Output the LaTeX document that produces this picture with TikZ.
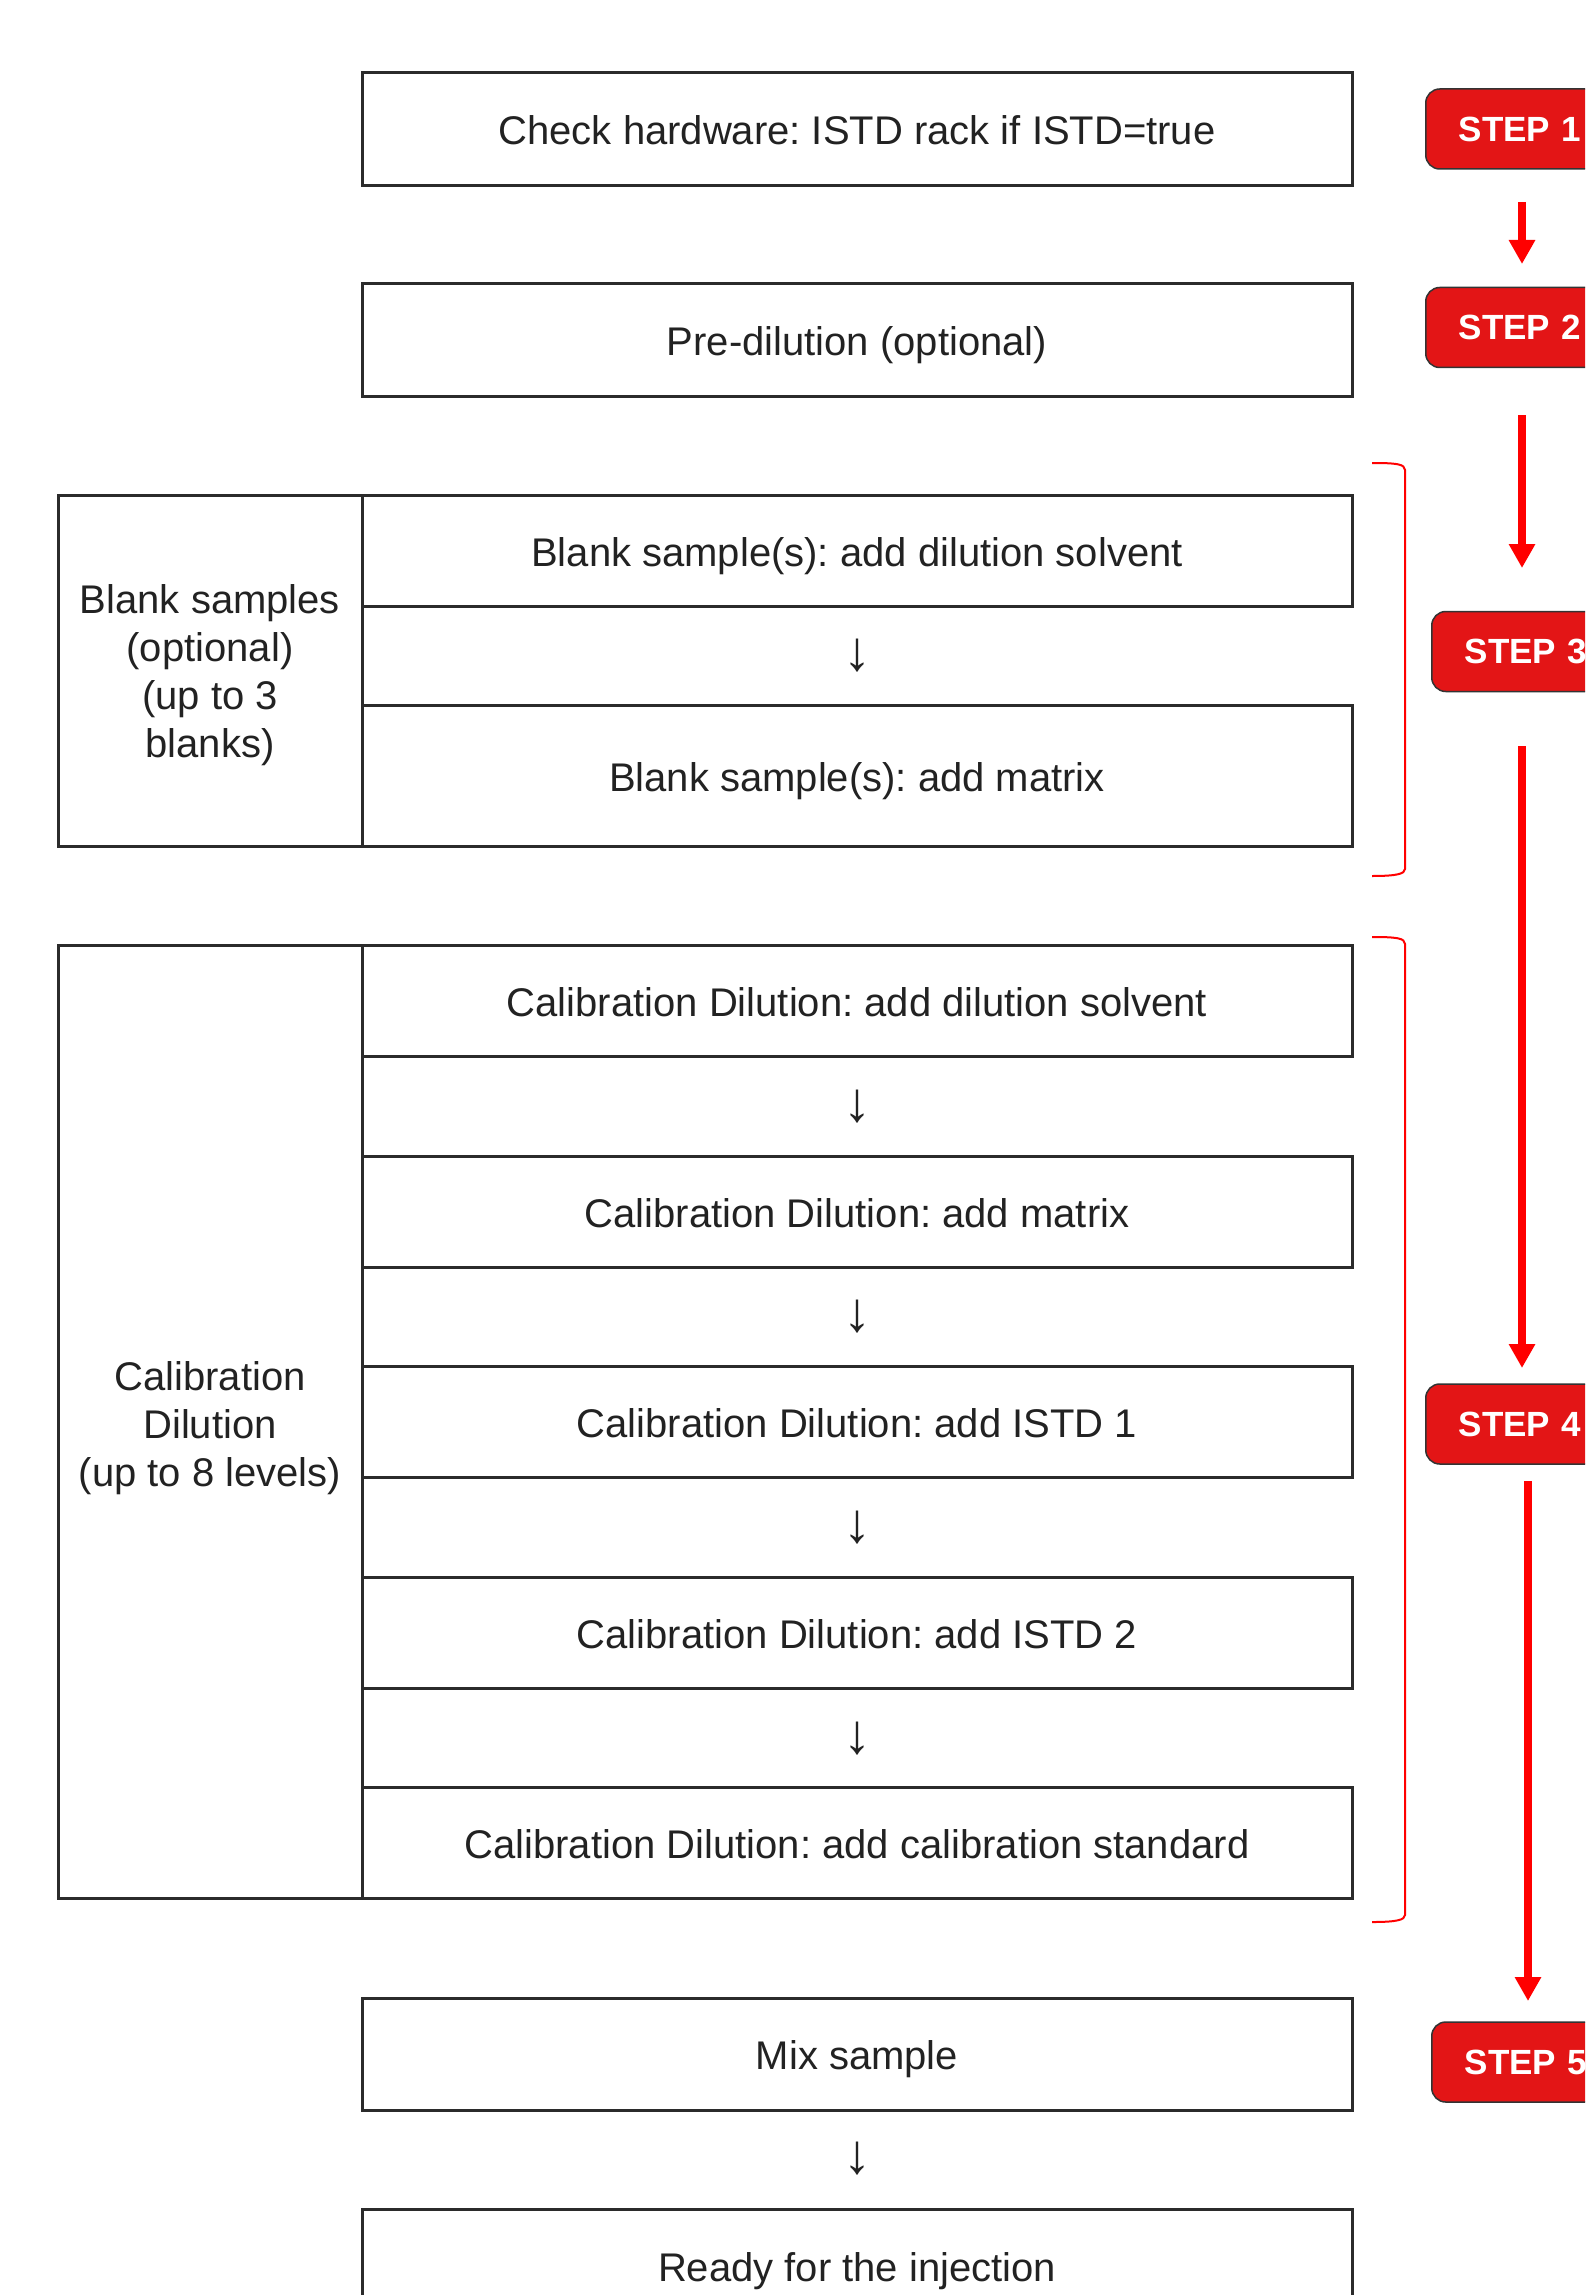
\documentclass[tikz,border=0pt]{standalone}
\usepackage{fontspec}
\setmainfont{Liberation Sans}
\usetikzlibrary{arrows.meta}
\frenchspacing
\definecolor{stepred}{HTML}{E31516}
\definecolor{stepborder}{HTML}{333333}
\definecolor{boxline}{HTML}{2B2B2B}
\definecolor{txt}{HTML}{222222}
\definecolor{flowred}{HTML}{FF0000}
\tikzset{
  rowbox/.style={draw=boxline, line width=1.5pt},
  rowtext/.style={anchor=base, inner sep=0pt, text=txt, font=\frenchspacing\fontsize{20}{24}\selectfont},
  sidetext/.style={anchor=center, inner sep=0pt, align=center, text=txt, font=\fontsize{20}{24}\selectfont},
  downglyph/.style={anchor=center, inner sep=0pt, text=txt, font=\fontsize{28}{32}\selectfont},
  stepbox/.style={draw=stepborder, fill=stepred, rounded corners=7pt, line width=0.75pt,
    minimum height=40pt, text width=90pt, inner xsep=16.5pt, align=left, anchor=west,
    text=white, font=\fontsize{17.5}{21}\selectfont\bfseries},
  redflow/.style={draw=flowred, line width=4pt, -{Triangle[length=12pt,width=12.5pt]}},
  bracket/.style={draw=flowred, line width=1pt}
}
\begin{document}
\begin{tikzpicture}[x=0.5pt,y=-0.5pt]
\useasboundingbox (0,0) rectangle (1585,2295);
\clip (0,0) rectangle (1585,2295);

% --- top boxes
\draw[rowbox] (362,73) rectangle (1352,186);
\node[rowtext] (t1) at (857,145) {Check hardware: ISTD rack if ISTD=true};
\draw[rowbox] (362,284) rectangle (1352,396);
\node[rowtext] (t2) at (857,355.5) {Pre-dilution (optional)};

% --- blank samples group
\draw[rowbox] (58,495) rectangle (362,846);
\node[sidetext] (bl) at (210,675) {Blank samples\\(optional)\\(up to 3\\blanks)};
\draw[rowbox] (362,495) rectangle (1352,606);
\node[rowtext] (b1) at (857,566) {Blank sample(s): add dilution solvent};
\node[downglyph] (ba) at (857,655.5) {↓};
\draw[rowbox] (362,705) rectangle (1352,846);
\node[rowtext] (b2) at (857,791) {Blank sample(s): add matrix};

% --- calibration group
\draw[rowbox] (58,945.5) rectangle (362,1898.5);
\node[sidetext] (cl) at (210,1428) {Calibration\\Dilution\\(up to 8 levels)};
\draw[rowbox] (362,945.5) rectangle (1352,1056.5);
\node[rowtext] (c1) at (857,1016.5) {Calibration Dilution: add dilution solvent};
\node[downglyph] (ca1) at (857,1106.3) {↓};
\draw[rowbox] (362,1156.1) rectangle (1352,1267.1);
\node[rowtext] (c2) at (857,1227.1) {Calibration Dilution: add matrix};
\node[downglyph] (ca2) at (857,1316.9) {↓};
\draw[rowbox] (362,1366.7) rectangle (1352,1477.7);
\node[rowtext] (c3) at (857,1437.7) {Calibration Dilution: add ISTD 1};
\node[downglyph] (ca3) at (857,1527.5) {↓};
\draw[rowbox] (362,1577.3) rectangle (1352,1688.3);
\node[rowtext] (c4) at (857,1648.3) {Calibration Dilution: add ISTD 2};
\node[downglyph] (ca4) at (857,1738.1) {↓};
\draw[rowbox] (362,1787.9) rectangle (1352,1898.5);
\node[rowtext] (c5) at (857,1858.9) {Calibration Dilution: add calibration standard};

% --- bottom boxes
\draw[rowbox] (362,1998) rectangle (1352,2110);
\node[rowtext] (m1) at (857,2069.5) {Mix sample};
\node[downglyph] (ma) at (857,2159) {↓};
\draw[rowbox] (362,2209) rectangle (1352,2330);
\node[rowtext] (r1) at (857,2281) {Ready for the injection};

% --- brackets
\draw[bracket] (1372,463) .. controls (1396,463) and (1405,464) .. (1405,470)
  -- (1405,869) .. controls (1405,874) and (1396,876) .. (1372,876);
\draw[bracket] (1372,937) .. controls (1396,937) and (1405,938) .. (1405,944)
  -- (1405,1915) .. controls (1405,1920) and (1396,1922) .. (1372,1922);

% --- step labels
\node[stepbox] (s1) at (1425,129) {STEP 1};
\node[stepbox] (s2) at (1425,327.5) {STEP 2};
\node[stepbox] (s3) at (1431,651.5) {STEP 3};
\node[stepbox] (s4) at (1425,1424) {STEP 4};
\node[stepbox] (s5) at (1431,2062) {STEP 5};

% --- red flow arrows
\coordinate (a1s) at (1522,202);  \coordinate (a1e) at (1522,264);
\coordinate (a2s) at (1522,415);  \coordinate (a2e) at (1522,568);
\coordinate (a3s) at (1522,746);  \coordinate (a3e) at (1522,1368);
\coordinate (a4s) at (1528,1481); \coordinate (a4e) at (1528,2001);
\draw[redflow] (a1s) -- (a1e);
\draw[redflow] (a2s) -- (a2e);
\draw[redflow] (a3s) -- (a3e);
\draw[redflow] (a4s) -- (a4e);
\end{tikzpicture}
\end{document}
